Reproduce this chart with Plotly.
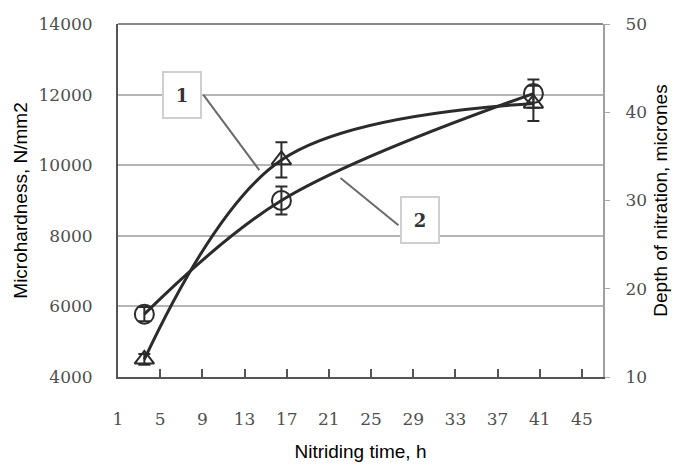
import plotly.graph_objects as go

# Data
time_h = [3.5, 16.5, 40.4]
curve1_hardness = [4500, 10150, 11750]   # triangles, curve 1
curve1_err = [150, 500, 500]
curve2_hardness = [5780, 9000, 12030]    # circles, curve 2
curve2_err = [200, 400, 400]
x_ticks = [1, 5, 9, 13, 17, 21, 25, 29, 33, 37, 41, 45]
left_ticks = [4000, 6000, 8000, 10000, 12000, 14000]
right_ticks = [10, 20, 30, 40, 50]

line_col = "#2b2b2b"
tick_font = dict(family="DejaVu Serif", size=17, color="#4f4f4f")
title_font = dict(family="Liberation Sans", size=19, color="black")

fig = go.Figure()

fig.add_trace(go.Scatter(
    x=time_h, y=curve1_hardness, mode="lines+markers",
    line=dict(color=line_col, width=3, shape="spline", smoothing=1),
    marker=dict(symbol="triangle-up-open", size=17, color=line_col, line=dict(width=2, color=line_col)),
    error_y=dict(type="data", array=curve1_err, color=line_col, thickness=2, width=6),
    showlegend=False))

fig.add_trace(go.Scatter(
    x=time_h, y=curve2_hardness, mode="lines+markers",
    line=dict(color=line_col, width=3, shape="spline", smoothing=1),
    marker=dict(symbol="circle-open", size=19, color=line_col, line=dict(width=2, color=line_col)),
    error_y=dict(type="data", array=curve2_err, color=line_col, thickness=2, width=6),
    showlegend=False))

# invisible trace on right axis
fig.add_trace(go.Scatter(x=[time_h[0]], y=[right_ticks[0]], yaxis="y2", mode="markers",
                         marker=dict(opacity=0), showlegend=False, hoverinfo="skip"))

# leader lines
fig.add_shape(type="line", x0=9.1, y0=11990, x1=14.4, y1=9860, line=dict(color="#6a6a6a", width=2))
fig.add_shape(type="line", x0=27.6, y0=8300, x1=22.1, y1=9640, line=dict(color="#6a6a6a", width=2))

box_common = dict(showarrow=False, font=dict(family="DejaVu Serif", size=18, color="#333333"),
                  bgcolor="white", bordercolor="#cfcfcf", borderwidth=2, width=34, height=42)
fig.add_annotation(x=7.1, y=11990, text="<b>1</b>", **box_common)
fig.add_annotation(x=29.6, y=8450, text="<b>2</b>", **box_common)

fig.update_layout(
    width=672, height=457,
    margin=dict(l=110, r=77, t=16, b=88, autoexpand=False),
    paper_bgcolor="white", plot_bgcolor="white",
    xaxis=dict(range=[1, 47], tickvals=x_ticks, ticktext=[str(v) for v in x_ticks],
               tickfont=tick_font, ticks="inside", ticklen=8, tickwidth=2, tickcolor="#555555",
               ticklabelstandoff=26,
               showline=True, linecolor="#555555", linewidth=2, showgrid=False, zeroline=False,
               title=dict(text="Nitriding time, h", font=title_font, standoff=16)),
    yaxis=dict(range=[4000, 14000], tickvals=left_ticks, ticktext=[str(v) for v in left_ticks],
               tickfont=tick_font, ticks="", ticklabelstandoff=20,
               showline=True, linecolor="#555555", linewidth=2,
               showgrid=True, gridcolor="#b5b5b5", gridwidth=2, zeroline=False,
               title=dict(text="Microhardness, N/mm2", font=title_font, standoff=6)),
    yaxis2=dict(range=[10, 50], tickvals=right_ticks, ticktext=[str(v) for v in right_ticks],
                overlaying="y", side="right", tickfont=tick_font, ticks="outside", ticklen=5,
                tickcolor="#aaaaaa", ticklabelstandoff=12,
                showline=True, linecolor="#a0a0a0", linewidth=2, showgrid=False,
                zeroline=False,
                title=dict(text="Depth of nitration, micrones", font=title_font, standoff=8)),
)

# top border line (at 14000)
fig.add_shape(type="line", xref="paper", yref="paper", x0=0, x1=1, y0=1, y1=1,
              line=dict(color="#8a8a8a", width=2))

fig.write_html("out.html")
